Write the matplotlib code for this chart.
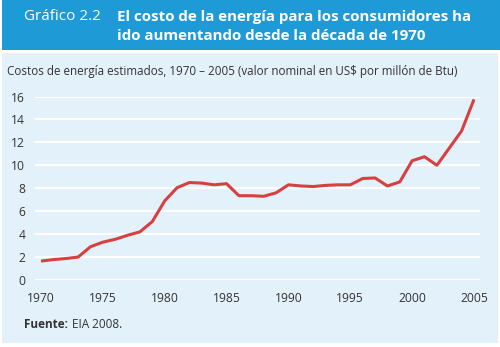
import matplotlib
matplotlib.use("Agg")
import matplotlib.pyplot as plt
from matplotlib.patches import Rectangle

# costos de energía, US$ por millón de Btu
anios = list(range(1970, 2006))
costos = [1.65, 1.78, 1.87, 2.0, 2.9, 3.3, 3.55, 3.9, 4.2, 5.1,
          6.9, 8.05, 8.5, 8.45, 8.3, 8.4, 7.35, 7.35, 7.3, 7.6,
          8.3, 8.2, 8.15, 8.25, 8.3, 8.3, 8.85, 8.9, 8.2, 8.55,
          10.4, 10.75, 10.0, 11.5, 13.0, 15.75]
yticks = [0, 2, 4, 6, 8, 10, 12, 14, 16]
xticks = [1970, 1975, 1980, 1985, 1990, 1995, 2000, 2005]

azul = "#1e9bd7"
fondo = "#e3f1fb"
rojo = "#d8403f"
texto = "#333333"

plt.rcParams["font.family"] = ["Open Sans", "DejaVu Sans"]

fig = plt.figure(figsize=(5, 3.47), dpi=100)
W, H = 500, 347

def fx(px):
    return px / W

def fy(py):
    return 1 - py / H

# banda del encabezado y panel
fig.patches.append(Rectangle((fx(2), fy(50)), fx(498), 50 / H, transform=fig.transFigure,
                             facecolor=azul, edgecolor="none", zorder=-2))
fig.patches.append(Rectangle((fx(2), fy(343)), fx(496), 290 / H, transform=fig.transFigure,
                             facecolor=fondo, edgecolor="none", zorder=-2))

fig.text(fx(24), fy(17), "Gráfico 2.2", color="white", fontsize=11, va="center", ha="left")
fig.text(fx(117), fy(17), "El costo de la energía para los consumidores ha", color="white",
         fontsize=10.9, fontweight="bold", va="center", ha="left")
fig.text(fx(117), fy(36), "ido aumentando desde la década de 1970", color="white",
         fontsize=10.9, fontweight="bold", va="center", ha="left")

fig.text(fx(7), fy(72), "Costos de energía estimados, 1970 – 2005 (valor nominal en US$ por millón de Btu)",
         color=texto, fontsize=8.4, va="center", ha="left")

ax = fig.add_axes([fx(35), fy(280), fx(445), (280 - 96.5) / H])
ax.set_facecolor("none")
ax.set_zorder(2)
for yv in yticks:
    ax.axhline(yv, color="white", lw=1.6, zorder=1)
ax.plot(anios, costos, color=rojo, lw=2.2, zorder=3, clip_on=False, solid_capstyle="butt")
ax.set_xlim(1970 - 6 / 12.37, 2005 + 6 / 12.37)
ax.set_ylim(0, 16)
ax.set_yticks(yticks)
ax.set_xticks(xticks)
for s in ax.spines.values():
    s.set_visible(False)
ax.tick_params(length=0, colors=texto, labelsize=8.7)
ax.tick_params(axis="y", pad=7)
ax.tick_params(axis="x", pad=9)

fig.text(fx(24), fy(325), "Fuente:", color=texto, fontsize=8.5, fontweight="bold", va="center", ha="left")
fig.text(fx(72), fy(325), "EIA 2008.", color=texto, fontsize=8.5, va="center", ha="left")

fig.savefig("out.png", dpi=100, facecolor="white")
